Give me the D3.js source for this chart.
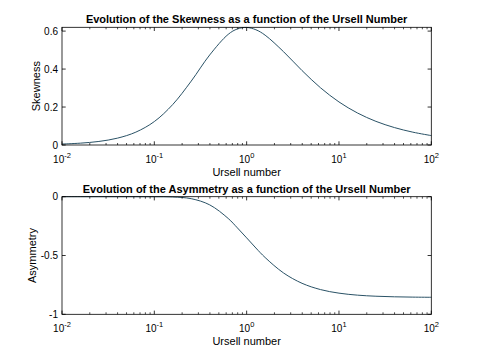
<!DOCTYPE html>
<html><head><meta charset="utf-8">
<script src="https://cdn.jsdelivr.net/npm/d3@7"></script>
<style>body{margin:0;background:#fff}svg{display:block}text{font-family:"Liberation Sans",Arial,sans-serif;fill:#000}</style>
</head><body><svg id="c" width="477" height="358"></svg>
<script>
const ursell = [0.01,0.0158,0.0251,0.0398,0.0631,0.1,0.158,0.251,0.398,0.631,0.794,1,1.259,1.585,2.512,3.981,6.31,10,15.85,25.12,39.81,63.1,100];
const skewness = [0.0050,0.0097,0.0187,0.0360,0.0678,0.1235,0.2128,0.3365,0.4744,0.5828,0.6114,0.6192,0.6071,0.5786,0.4913,0.3921,0.3014,0.2268,0.1687,0.1246,0.0919,0.0676,0.0496];
const asymmetry = [0,0,0,0,0,-0.0002,-0.0024,-0.0169,-0.0694,-0.1850,-0.2652,-0.3501,-0.4362,-0.5171,-0.6487,-0.7364,-0.7898,-0.8202,-0.8371,-0.8463,-0.8512,-0.8539,-0.8553];
const xTickLabels = ["-2","-1","0","1","2"];
const skewTicks = [0,0.2,0.4,0.6];
const asymTicks = [-1,-0.5,0];

const svg = d3.select("#c");
const L = 62, R = 431.3;
const panels = [
  {top:27.3,bottom:145,domain:[0,0.62],ticks:skewTicks,vals:skewness,title:"Evolution of the Skewness as a function of the Ursell Number",ylabel:"Skewness",ylx:36},
  {top:196.7,bottom:314.3,domain:[-1,0],ticks:asymTicks,vals:asymmetry,title:"Evolution of the Asymmetry as a function of the Ursell Number",ylabel:"Asymmetry",ylx:32}
];
const x = d3.scaleLog().domain([0.01,100]).range([L,R]);
const majors = [0.01,0.1,1,10,100];
const minors = [];
for (let d=0.01; d<100; d*=10) for (let k=2;k<=9;k++) minors.push(d*k);

panels.forEach(p=>{
  const y = d3.scaleLinear().domain(p.domain).range([p.bottom,p.top]);
  const g = svg.append("g");
  // curve
  const line = d3.line().x((d,i)=>x(ursell[i])).y(d=>y(d)).curve(d3.curveCatmullRom.alpha(0.5));
  g.append("path").datum(p.vals).attr("d",line).attr("fill","none").attr("stroke","#2a5266").attr("stroke-width",1);
  // box
  g.append("rect").attr("x",L).attr("y",p.top).attr("width",R-L).attr("height",p.bottom-p.top)
    .attr("fill","none").attr("stroke","#000").attr("stroke-width",0.8);
  // x ticks
  majors.forEach(v=>{
    g.append("line").attr("x1",x(v)).attr("x2",x(v)).attr("y1",p.bottom).attr("y2",p.bottom-3.7).attr("stroke","#000").attr("stroke-width",0.8);
    g.append("line").attr("x1",x(v)).attr("x2",x(v)).attr("y1",p.top).attr("y2",p.top+3.7).attr("stroke","#000").attr("stroke-width",0.8);
  });
  minors.forEach(v=>{
    g.append("line").attr("x1",x(v)).attr("x2",x(v)).attr("y1",p.bottom).attr("y2",p.bottom-2).attr("stroke","#000").attr("stroke-width",0.7);
    g.append("line").attr("x1",x(v)).attr("x2",x(v)).attr("y1",p.top).attr("y2",p.top+2).attr("stroke","#000").attr("stroke-width",0.7);
  });
  // x tick labels
  majors.forEach((v,i)=>{
    const t = g.append("text").attr("x",x(v)).attr("y",p.bottom+18).attr("text-anchor","middle").attr("font-size",10);
    t.append("tspan").text("10");
    t.append("tspan").attr("dy",-5).attr("font-size",7.5).text(xTickLabels[i]);
  });
  // y ticks
  p.ticks.forEach(v=>{
    g.append("line").attr("x1",L).attr("x2",L+3.7).attr("y1",y(v)).attr("y2",y(v)).attr("stroke","#000").attr("stroke-width",0.8);
    g.append("line").attr("x1",R).attr("x2",R-3.7).attr("y1",y(v)).attr("y2",y(v)).attr("stroke","#000").attr("stroke-width",0.8);
    g.append("text").attr("x",L-4).attr("y",y(v)+3.6).attr("text-anchor","end").attr("font-size",10).text(String(v));
  });
  // title
  g.append("text").attr("x",(L+R)/2).attr("y",p.top-4).attr("text-anchor","middle").attr("font-size",11).attr("font-weight","bold").text(p.title);
  // x label
  g.append("text").attr("x",(L+R)/2).attr("y",p.bottom+31).attr("text-anchor","middle").attr("font-size",11).text("Ursell number");
  // y label
  g.append("text").attr("transform",`translate(${p.ylx+3.5},${(p.top+p.bottom)/2}) rotate(-90)`).attr("text-anchor","middle").attr("font-size",11).text(p.ylabel);
});
</script></body></html>
